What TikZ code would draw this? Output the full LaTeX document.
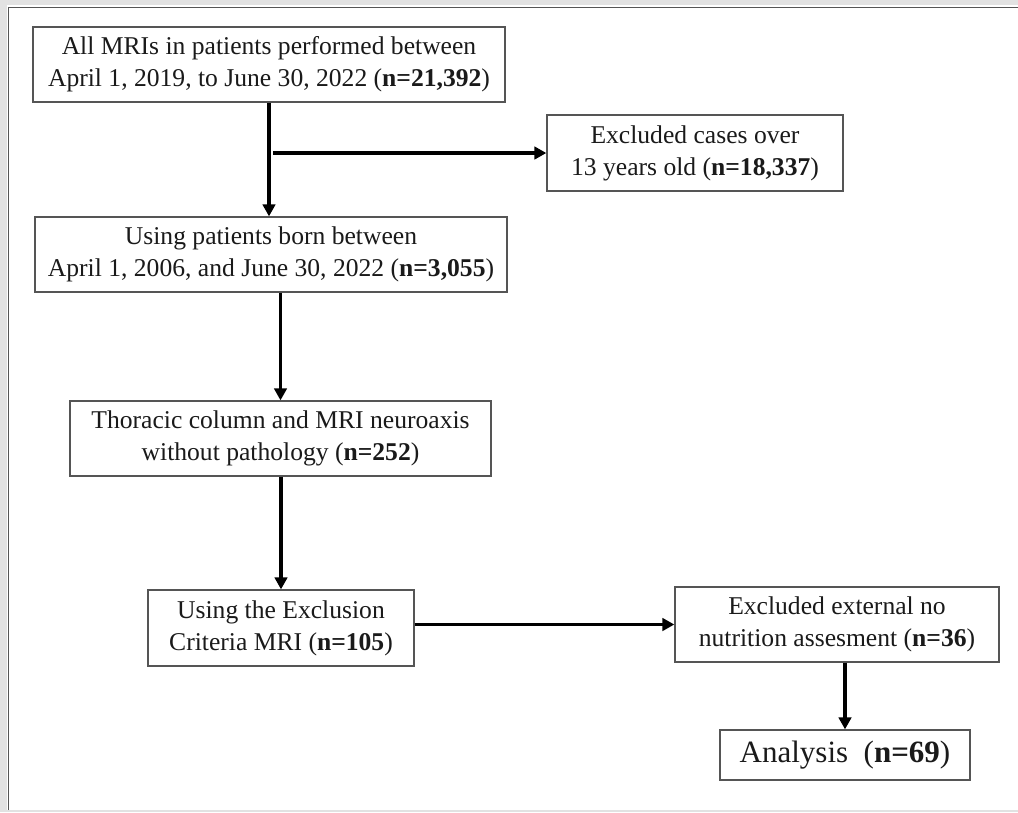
\documentclass[tikz,border=0pt]{standalone}
\usepackage{fontspec}
\setmainfont{Liberation Serif}
\usetikzlibrary{arrows.meta}
\definecolor{boxgray}{HTML}{555555}
\definecolor{bandgray}{HTML}{E2E2E2}
\definecolor{txt}{HTML}{1A1A1A}
\tikzset{
  flowbox/.style={draw=boxgray, line width=1.3pt, fill=white, text=txt, align=center,
    inner sep=0pt, font=\fontsize{25.6}{32}\selectfont},
  flowarrow/.style={line width=3.6pt, draw=black, -{Triangle[length=12pt,width=12.5pt]}},
}
\begin{document}
\begin{tikzpicture}[x=1pt,y=-1pt]
\useasboundingbox (0,0) rectangle (1018,812);
\fill[white] (0,0) rectangle (1018,812);
% outer frame
\fill[bandgray] (0,0) rectangle (7,812);
\fill[bandgray] (0,0) rectangle (1018,5);
\fill[bandgray] (0,810) rectangle (1018,812);
\draw[boxgray, line width=1.8pt] (8.5,810) -- (8.5,7.5) -- (1018,7.5);
% boxes
\node[flowbox, minimum width=472, minimum height=75] (b1) at (269,64.5)
  {All MRIs in patients performed between\\April 1, 2019, to June 30, 2022 (\textbf{n=21,392})};
\node[flowbox, minimum width=472, minimum height=75] (b2) at (271,254.5)
  {Using patients born between\\April 1, 2006, and June 30, 2022 (\textbf{n=3,055})};
\node[flowbox, minimum width=296, minimum height=76] (b3) at (695,153)
  {Excluded cases over\\13 years old (\textbf{n=18,337})};
\node[flowbox, minimum width=421, minimum height=75] (b4) at (280.5,438.5)
  {Thoracic column and MRI neuroaxis\\without pathology (\textbf{n=252})};
\node[flowbox, minimum width=266, minimum height=76] (b5) at (281,628)
  {Using the Exclusion\\Criteria MRI (\textbf{n=105})};
\node[flowbox, minimum width=324, minimum height=75] (b6) at (837,624.5)
  {Excluded external no\\nutrition assesment (\textbf{n=36})};
\node[flowbox, minimum width=250, minimum height=50, font=\fontsize{31}{36}\selectfont] (b7) at (845,755)
  {Analysis\ \ (\textbf{n=69})};
% connectors
\draw[flowarrow] (b1.south) -- (b1.south |- b2.north);
\coordinate (brs) at (273,153);
\draw[flowarrow] (brs) -- (b3.west);
\draw[flowarrow] (b2.south -| b4.north) -- (b4.north);
\draw[flowarrow] (b4.south -| b5.north) -- (b5.north);
\draw[flowarrow] (b5.east |- b6.west) -- (b6.west);
\draw[flowarrow] (b6.south -| b7.north) -- (b7.north);
\end{tikzpicture}
\end{document}
